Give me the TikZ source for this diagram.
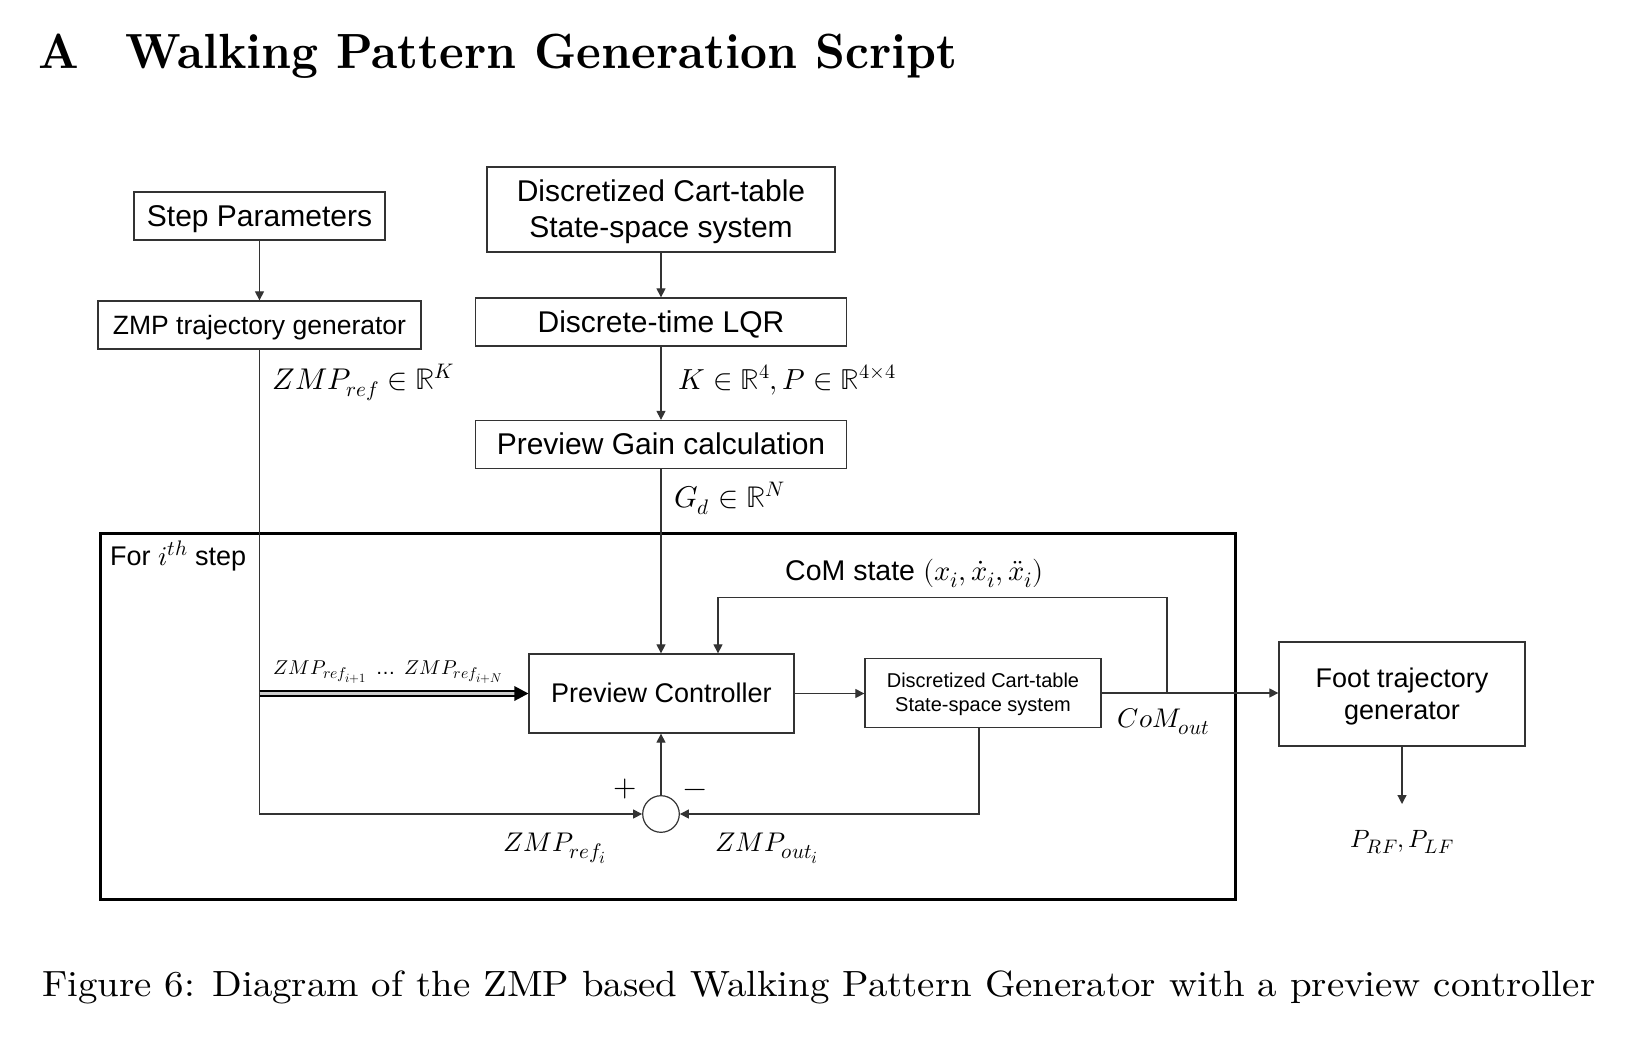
\documentclass[tikz,border=0pt]{standalone}
\usepackage{fontspec}
\usepackage{unicode-math}
\setmathfont{Latin Modern Math}
\newfontfamily\arial{Liberation Sans}
\usetikzlibrary{arrows.meta,calc}
\DeclareMathSizes{27}{27}{21}{17}
\DeclareMathSizes{20}{20}{15.6}{12.6}
\DeclareMathSizes{25}{25}{19.5}{15.5}
\DeclareMathSizes{28.5}{28.5}{22}{17.5}
\newcommand{\fsz}[1]{\fontsize{#1}{#1}\selectfont}
\newcommand{\pst}{\rule[-0.212em]{0pt}{1.117em}}
\begin{document}
\begin{tikzpicture}[x=1pt,y=-1pt,
  box/.style={draw=black!80, line width=1.3pt, inner sep=0pt, align=center},
  conn/.style={draw=black!80, line width=1.2pt, -{Triangle[length=9pt,width=9pt]}},
  lab/.style={inner sep=0pt, anchor=base west}]
\useasboundingbox (0,0) rectangle (1644,1052);
\fill[white] (0,0) rectangle (1644,1052);

% title and caption
\node[lab] (title) at (38,68) {\resizebox{919pt}{34.5pt}{\bfseries A\quad Walking Pattern Generation Script}};
\node[lab] (cap) at (42,996.7) {\resizebox{1553pt}{25.7pt}{Figure 6: Diagram of the ZMP based Walking Pattern Generator with a preview controller}};

% boxes
\node[box, minimum width=251pt, minimum height=48pt, font=\arial\fsz{30}] (sp) at (259.5,216) {\pst Step Parameters};
\node[box, minimum width=323pt, minimum height=48pt, font=\arial\fsz{26.5}] (zg) at (259.5,325) {\pst ZMP trajectory generator};
\node[box, minimum width=348pt, minimum height=85pt, font=\arial\fontsize{30}{36}\selectfont] (ct) at (661,209.5) {\pst Discretized Cart-table\\\pst State-space system};
\node[box, minimum width=371pt, minimum height=48pt, font=\arial\fsz{30}] (lqr) at (661,322) {\pst Discrete-time LQR};
\node[box, minimum width=371pt, minimum height=48pt, font=\arial\fsz{30}] (pg) at (661,444.5) {\pst Preview Gain calculation};
\node[draw=black, line width=3pt, inner sep=0pt, minimum width=1135pt, minimum height=366pt] (frame) at (667.5,716) {};
\node[box, minimum width=265pt, minimum height=79pt, font=\arial\fsz{27}] (pc) at (661.5,693.5) {\pst Preview Controller};
\node[box, minimum width=236pt, minimum height=69pt, font=\arial\fontsize{20}{24}\selectfont] (cs) at (983,693) {\pst Discretized Cart-table\\\pst State-space system};
\node[box, minimum width=246pt, minimum height=104pt, font=\arial\fontsize{27}{32}\selectfont] (foot) at (1402,694) {\pst Foot trajectory\\\pst generator};
\node[draw=black!80, line width=1.2pt, circle, inner sep=0pt, minimum size=36.6pt] (sum) at (661,814) {};

% connectors
\draw[conn] (sp) -- (zg);
\draw[conn] (ct) -- (lqr);
\draw[conn] (lqr) -- (pg);
\draw[conn] (pg.south) -- (pg.south |- pc.north);
\draw[conn] (zg.south) |- (sum.west);
\draw[conn] (pc.east) -- (pc.east -| cs.west);
\draw[conn] (cs.east) -- (cs.east -| foot.west);
\coordinate (fbs) at (1167,693);
\coordinate (fbt) at (718,597.6);
\draw[conn] (fbs) |- (fbt) -- (fbt |- pc.north);
\draw[conn] ([xshift=-4pt]cs.south) |- (sum.east);
\draw[conn] (sum.north) -- (sum.north |- pc.south);
\coordinate (pout) at (1402,804);
\draw[conn] (foot.south) -- (pout);

% double (vector) arrow
\coordinate (dj) at (zg.south |- pc.west);
\draw[line width=1.8pt, double=gray!40, double distance=2.6pt] (dj) -- ([xshift=-13pt]pc.west);
\fill[black] (pc.west) -- ++(-14,-7.5) -- ++(0,15) -- cycle;

% labels
\node[lab, font=\fsz{30}] (lzmp) at (272.6,389) {$ZMP_{ref}\in\mathbb{R}^K$};
\node[lab, font=\fsz{29}] (lk) at (678.4,389) {$K\in\mathbb{R}^4, P\in\mathbb{R}^{4\times4}$};
\node[lab, font=\fsz{30}] (lg) at (674,507.5) {$G_d\in\mathbb{R}^N$};
\node[lab, font=\arial\fsz{27}] (lfor) at (110,565) {For $i^{th}$ step};
\node[lab, font=\arial\fsz{28.5}] (lcom) at (785,580) {CoM state $(x_i, \dot{x}_i, \ddot{x}_i)$};
\node[lab, font=\arial\fsz{20}] (lprev) at (273.7,674) {$ZMP_{ref_{i+1}}$ \,…\, $ZMP_{ref_{i+N}}$};
\node[lab, font=\fsz{27}] (lcomout) at (1117.7,727.7) {$CoM_{out}$};
\node[inner sep=0pt, font=\fsz{30}] (lplus) at (625,788.5) {$+$};
\node[inner sep=0pt, font=\fsz{30}] (lminus) at (695,793) {$-$};
\node[lab, font=\fsz{27}] (lrefi) at (503,851.4) {$ZMP_{ref_i}$};
\node[lab, font=\fsz{27}] (louti) at (715,851.4) {$ZMP_{out_i}$};
\node[lab, font=\fsz{25}] (lpf) at (1350.5,847) {$P_{RF}, P_{LF}$};
\end{tikzpicture}
\end{document}
